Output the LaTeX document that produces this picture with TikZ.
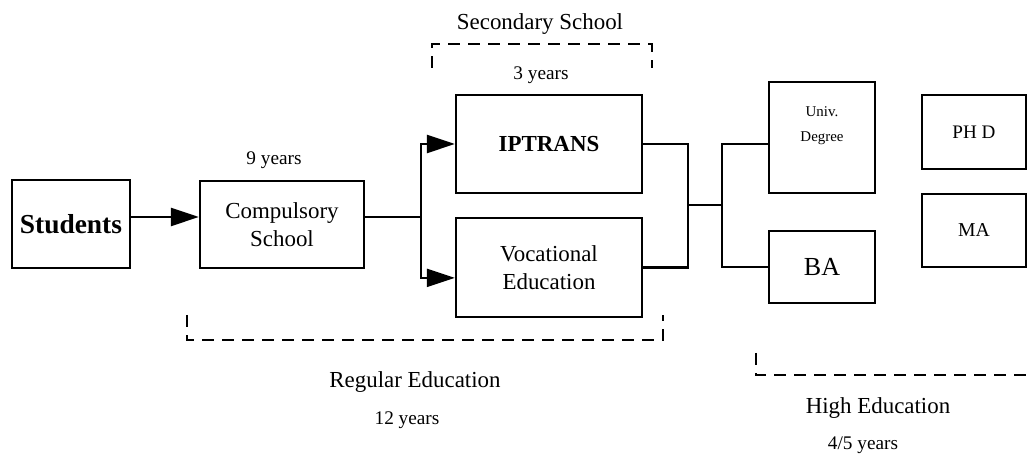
\documentclass[tikz,border=0pt]{standalone}
\usepackage{fontspec}
\setmainfont{Liberation Serif}
\usetikzlibrary{arrows.meta}

\newcommand{\bigtxt}{\fontsize{16.3}{20}\selectfont}
\newcommand{\smalltxt}{\fontsize{13.7}{16}\selectfont}

\begin{document}
\begin{tikzpicture}[x=0.025cm, y=-0.025cm,
		box/.style={draw, line width=1.6pt, inner sep=0pt, align=center},
		arr/.style={-{Triangle[length=0.7cm, width=0.45cm]}},
		dashline/.style={line width=1pt, dash pattern=on 0.3cm off 0.2cm}]
			\useasboundingbox (0, 0) rectangle (1033, 457);
			
			\node [box, minimum width=2.95cm, minimum height=2.2cm, font=\fontsize{19.5}{22}\selectfont\bfseries] (stud) at (71, 224) {Students};
			\node [box, minimum width=4.1cm, minimum height=2.175cm, font=\bigtxt] (comp) at (282, 224.5) {Compulsory\\School};
			\node [box, minimum width=4.65cm, minimum height=2.45cm, font=\bigtxt\bfseries] (ipt) at (549, 144) {IPTRANS};
			\node [box, minimum width=4.65cm, minimum height=2.475cm, font=\bigtxt] (voc) at (549, 267.5) {Vocational\\Education};
			\node [box, minimum width=2.65cm, minimum height=2.775cm] (univ) at (822, 137.5) {};
			\node [align=center, font=\fontsize{10.6}{17.8}\selectfont] (univtxt) at (822, 126) {Univ.\\Degree};
			\node [box, minimum width=2.65cm, minimum height=1.8cm, font=\fontsize{18.5}{22}\selectfont] (ba) at (822, 267) {BA};
			\node [box, minimum width=2.6cm, minimum height=1.85cm, font=\fontsize{13.6}{16}\selectfont] (phd) at (974, 132) {PH D};
			\node [box, minimum width=2.6cm, minimum height=1.825cm, font=\fontsize{14}{16}\selectfont] (ma) at (974, 230.5) {MA};
			
			\node [font=\smalltxt] (nine) at (274, 160) {9 years};
			\node [font=\smalltxt] (three) at (541, 75) {3 years};
			\node [font=\bigtxt] (sec) at (540, 24) {Secondary School};
			\node [font=\bigtxt] (reg) at (415, 382) {Regular Education};
			\node [font=\smalltxt] (twelve) at (407, 420) {12 years};
			\node [font=\bigtxt] (high) at (878, 408) {High Education};
			\node [font=\smalltxt] (fourfive) at (863, 445) {4/5 years};
			
			% connectors
			\coordinate (lvl) at (0, 217);
			\coordinate (split) at (421, 217);
			\coordinate (j1) at (688, 205);
			\coordinate (j2) at (722, 205);
			\begin{scope}[line width=1.6pt]
				\draw[arr] (stud.east |- lvl) -- (comp.west |- lvl);
				\draw (comp.east |- lvl) -- (split);
				\draw[arr] (split) |- (ipt.west);
				\draw[arr] (split) |- ([yshift=-0.26cm]voc.west);
				\draw (ipt.east) -| (j1) |- (voc.east);
				\draw (j1) -- (j2);
				\draw (univ.west |- ipt.east) -| (j2) |- (ba.west);
			\end{scope}
			
			% dashed groups
			\draw[dashline] (432, 68) -- (432, 44) -- (652, 44) -- (652, 68);
			\draw[dashline] (187, 315) -- (187, 340) -- (663, 340) -- (663, 315);
			\draw[dashline] (756, 353) -- (756, 375) -- (1033, 375);
		\end{tikzpicture}
\end{document}
